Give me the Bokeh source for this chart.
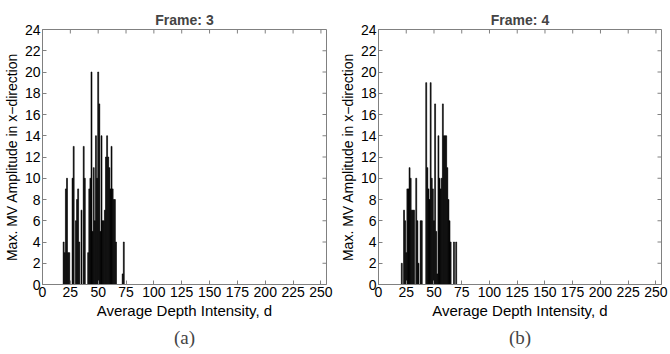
from bokeh.plotting import figure
from bokeh.layouts import row
from bokeh.models import Range1d, FixedTicker, Title
from bokeh.embed import file_html
from bokeh.resources import INLINE

# ---- data ----
x_ticks = [0, 25, 50, 75, 100, 125, 150, 175, 200, 225, 250]
y_ticks = list(range(0, 25, 2))

d_frame3 = list(range(19, 74))
h_frame3 = [4, 3, 9, 10, 3, 3, 0, 0, 10, 13,
            0, 6, 8, 9, 4, 0, 7, 0, 13, 10,
            0, 0, 3, 9, 10, 20, 5, 11, 6, 14,
            10, 20, 17, 5, 14, 6, 6, 7, 12, 14,
            12, 11, 9, 13, 9, 8, 8, 4, 0, 0,
            0, 0, 0, 1, 4]

d_frame4 = list(range(21, 71))
h_frame4 = [2, 0, 7, 6, 3, 9, 9, 11, 10, 7,
            7, 7, 0, 10, 6, 2, 0, 6, 6, 0,
            0, 0, 19, 11, 9, 8, 19, 10, 9, 6,
            17, 5, 1, 14, 10, 9, 10, 17, 14, 14,
            14, 11, 8, 6, 4, 0, 0, 4, 0, 4]

titles = ["Frame: 3", "Frame: 4"]
captions = ["(a)", "(b)"]
x_label = "Average Depth Intensity, d"
y_label = "Max. MV Amplitude in x\u2212direction"

GRAY = "#808080"
FONT = "Liberation Sans"
X_MAX, Y_MAX = 255, 24
FRAME_W, FRAME_H = 284, 255
TICK_PX = 4


def make(title, xs, hs, cap, left, right):
    p = figure(width=335, height=354, output_backend="svg", toolbar_location=None,
               x_range=Range1d(0, X_MAX), y_range=Range1d(0, Y_MAX),
               min_border_left=left, min_border_right=right,
               min_border_top=29, min_border_bottom=70)
    p.vbar(x=xs, top=hs, width=0.85, fill_color="black", line_color="black",
           line_width=0.6)
    p.title.text = title
    p.title.align = "center"
    p.title.text_font = FONT
    p.title.text_font_size = "14px"
    p.title.text_font_style = "bold"
    p.title.standoff = 3
    p.xgrid.visible = False
    p.ygrid.visible = False
    p.outline_line_color = GRAY
    p.xaxis.ticker = FixedTicker(ticks=x_ticks)
    p.yaxis.ticker = FixedTicker(ticks=y_ticks)
    p.xaxis.axis_label = x_label
    p.yaxis.axis_label = y_label
    for ax in (p.xaxis[0], p.yaxis[0]):
        ax.axis_line_color = GRAY
        ax.major_tick_line_color = GRAY
        ax.major_tick_in = TICK_PX
        ax.major_tick_out = 0
        ax.minor_tick_line_color = None
        ax.major_label_text_font = FONT
        ax.major_label_text_font_size = "14px"
        ax.major_label_text_color = "black"
        ax.major_label_standoff = 2
        ax.axis_label_text_font = FONT
        ax.axis_label_text_font_style = "normal"
        ax.axis_label_text_color = "black"
        ax.axis_label_standoff = 2
    p.xaxis.axis_label_text_font_size = "15px"
    p.yaxis.axis_label_text_font_size = "14px"
    # inward ticks on the top and right sides of the box (MATLAB "box on")
    dy = TICK_PX * Y_MAX / FRAME_H
    dx = TICK_PX * X_MAX / FRAME_W
    p.segment(x0=x_ticks, x1=x_ticks, y0=[Y_MAX] * len(x_ticks),
              y1=[Y_MAX - dy] * len(x_ticks), line_color=GRAY, line_width=1)
    p.segment(x0=[X_MAX] * len(y_ticks), x1=[X_MAX - dx] * len(y_ticks),
              y0=y_ticks, y1=y_ticks, line_color=GRAY, line_width=1)
    p.add_layout(Title(text=cap, align="center", text_font="Liberation Serif",
                       text_font_size="19px", text_font_style="normal", standoff=7), "below")
    return p


p1 = make(titles[0], d_frame3, h_frame3, captions[0], 42, 9)
p2 = make(titles[1], d_frame4, h_frame4, captions[1], 43, 9)
layout = row(p1, p2)
open("out.html", "w").write(file_html(layout, INLINE))
